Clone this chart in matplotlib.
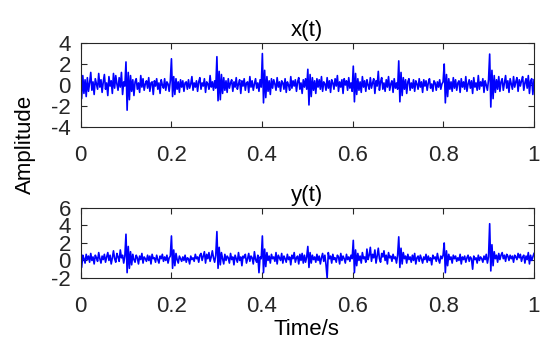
import numpy as np
import matplotlib
matplotlib.use('Agg')
import matplotlib.pyplot as plt

# 字体 (MATLAB 风格, Arial 的替代)
plt.rcParams['font.family'] = ['Liberation Sans', 'DejaVu Sans']
plt.rcParams['axes.unicode_minus'] = False

# --- 数据: 从图中估读, 每行 0.1 s ---
x_vals = [
    1.8, -1.3, 0.9, -0.8, 0.5, -1.1, 0.7, -0.6, 0.2, 1.2, -0.5, 0.3, -0.9, 0.6, 0.1, -0.4, 1.1, -0.2, 0.5, -0.7,
    0.3, 1.0, -0.4, 0.2, -1.0, 0.8, -0.1, 0.4, -0.8, 1.1, -0.3, 0.9, 0.1, -0.5, 0.7, -0.2, 1.2, -0.9, 0.3, -0.1,
    2.2, -2.4, 1.2, -1.4, 0.9, -0.6, 0.5, -1.0, 0.3, 0.6, -0.4, 0.2, -0.7, 0.9, -0.2, 0.6, -0.5, 0.1, 0.4, -0.3,
    0.7, -0.6, 0.2, 0.3, -0.9, 0.4, -0.1, 0.6, -0.4, 0.2, -0.8, 0.5, 0.0, -0.3, 0.6, -0.5, 0.3, 0.1, -0.6, 0.4,
    2.5, -1.1, 0.8, -0.9, 0.6, -0.4, 0.3, -0.7, 0.5, -0.2, 0.4, -0.6, 0.2, 0.3, -0.4, 0.5, -0.3, 0.1, 0.8, -0.5,
    0.2, -0.2, 0.4, -0.6, 0.3, 0.7, -0.4, 0.2, -0.1, 0.6, -0.7, 0.3, 0.1, -0.4, 0.9, -0.2, 0.3, -0.5, 0.4, -0.3,
    2.7, -1.5, 1.3, -1.4, 1.0, -0.8, 0.7, -0.5, 0.4, -0.7, 0.6, -0.3, 0.2, 0.5, -0.6, 0.3, -0.2, 0.7, -0.4, 0.1,
    0.5, -0.8, 0.4, -0.1, 0.6, -0.5, 0.2, 0.3, -0.7, 0.8, -0.2, 0.4, -0.5, 0.1, 0.6, -0.3, 0.2, -0.6, 0.5, -0.2,
    3.0, -1.7, 1.4, -1.2, 0.8, -0.6, 0.4, -0.9, 0.6, -0.3, 0.5, 0.1, -0.5, 0.7, -0.2, 0.3, -0.6, 0.4, 0.2, -0.4,
    0.6, -0.7, 0.3, 0.0, -0.5, 0.8, -0.3, 0.4, -0.1, 0.5, -0.6, 0.3, 0.7, -0.4, 0.2, -0.8, 0.5, -0.2, 0.6, -0.4,
    1.5, -1.9, 1.0, -1.1, 0.7, -0.5, 0.4, -0.8, 0.6, -0.2, 0.5, -0.4, 0.8, -0.6, 0.3, 0.1, -0.5, 0.7, -0.3, 0.4,
    -0.7, 0.5, 0.2, -0.4, 0.6, -0.1, 0.9, -0.6, 0.3, -0.2, 0.5, -0.8, 0.6, 0.0, 0.4, -0.5, 0.7, -0.3, 0.2, -0.6,
    1.8, -1.6, 1.1, -0.9, 0.6, -0.5, 0.3, -0.7, 0.8, -0.2, 0.4, -0.6, 0.5, 0.0, -0.4, 0.7, -0.3, 0.2, 0.6, -0.8,
    0.4, -0.1, 1.3, -0.5, 0.3, 0.7, -0.4, 0.2, -0.6, 0.5, -0.2, 0.8, -0.5, 0.1, 0.4, -0.7, 0.6, -0.3, 0.2, -0.4,
    2.3, -1.6, 1.2, -1.0, 0.7, -0.4, 0.5, -0.8, 0.3, 0.6, -0.5, 0.2, -0.3, 0.5, -0.6, 0.4, 0.1, -0.4, 0.6, -0.2,
    0.3, -0.7, 0.5, -0.1, 0.4, -0.5, 0.2, 0.6, -0.3, 0.1, -0.6, 0.4, 0.2, -0.5, 0.3, -0.2, 0.5, -0.4, 0.1, 0.3,
    2.0, -1.7, 1.0, -1.1, 0.6, -0.4, 0.3, -0.6, 0.7, -0.3, 0.5, -0.5, 0.2, 0.4, -0.7, 0.6, -0.2, 0.3, -0.4, 0.8,
    -0.6, 0.1, 0.5, -0.3, 0.4, -0.8, 0.7, -0.2, 0.2, -0.5, 0.9, -0.4, 0.3, -0.1, 0.6, -0.7, 0.4, 0.0, -0.5, 0.5,
    2.95, -2.1, 1.4, -1.3, 0.9, -0.7, 0.5, -0.4, 0.8, -0.6, 0.3, 0.6, -0.5, 0.2, 0.9, -0.3, 0.4, -0.7, 0.6, 0.1,
    -0.4, 0.8, -0.2, 0.3, 0.7, -0.6, 0.5, -0.1, 0.4, 0.8, -0.5, 0.2, 0.6, -0.3, 0.9, -0.8, 0.4, 0.6, -0.9, 0.5,
]

y_vals = [
    1.0, -0.8, 0.6, 0.2, -0.3, 0.7, 0.1, 0.5, -0.2, 0.8, 0.0, 0.4, -0.4, 0.6, 0.3, -0.1, 0.9, 0.2, -0.3, 0.5,
    0.1, 0.7, -0.2, 0.4, 0.9, 0.0, 0.6, -0.4, 0.3, 1.1, 0.2, -0.2, 0.8, 0.4, -0.1, 1.2, 0.3, 0.6, -0.3, 0.5,
    3.0, -1.4, 1.6, -0.9, 1.0, -0.5, 0.7, 0.1, -0.2, 0.6, 0.3, -0.4, 0.5, 0.1, 0.8, -0.3, 0.4, 0.2, -0.1, 0.6,
    0.0, 0.5, -0.4, 0.7, 0.2, 0.3, -0.2, 0.6, 0.1, -0.3, 0.5, 0.2, 0.7, -0.1, 0.4, 0.0, 0.6, -0.3, 0.3, 0.5,
    2.8, -0.9, 1.2, -0.6, 0.8, 0.1, -0.3, 0.5, 0.2, -0.1, 0.4, 0.0, 0.6, -0.2, 0.3, 0.2, -0.4, 0.5, 0.1, 0.3,
    -0.1, 0.7, 0.2, 0.4, -0.2, 0.6, 0.8, 0.0, 0.5, 1.0, -0.3, 0.7, 0.2, 0.9, -0.1, 0.4, 1.1, 0.3, -0.2, 0.6,
    3.3, -0.9, 1.5, -0.5, 0.9, 0.2, -0.4, 0.7, 0.0, 0.5, 0.3, -0.3, 0.8, 0.1, 0.4, -0.5, 0.6, 0.2, -0.2, 0.9,
    0.0, 0.4, -0.6, 0.5, 0.3, 0.7, -0.3, 0.2, 0.8, -0.1, 0.5, 0.3, -0.4, 1.0, 0.1, -0.2, 0.6, -1.4, 0.4, 0.2,
    2.8, -1.4, 1.3, -0.7, 0.9, 0.0, 0.5, -0.3, 0.7, 0.2, 0.4, -0.1, 0.9, -0.4, 0.6, 0.3, 0.0, 0.8, -0.3, 0.5,
    0.2, -0.2, 0.7, 0.1, 0.4, -0.5, 0.6, 0.2, 0.9, -0.2, 0.3, 0.5, -0.4, 0.7, 0.0, 0.8, -0.3, 0.6, -0.2, 0.4,
    1.6, -0.8, 0.9, -0.3, 0.6, 0.1, 0.4, -0.2, 0.7, 0.0, 0.5, -0.4, 0.3, 0.8, -0.1, 0.6, -0.5, -2.0, 0.9, 0.2,
    0.5, -0.3, 0.7, 0.1, 0.3, -0.2, 0.6, 0.4, -0.4, 0.8, 0.0, 0.5, 0.2, -0.3, 0.7, 0.1, 0.4, -0.1, 0.6, 0.2,
    2.3, -1.4, 1.2, -0.6, 0.8, 0.0, 0.5, -0.3, 0.9, 0.2, 0.4, -0.2, 1.3, 0.1, 0.6, 1.5, -0.1, 0.7, 0.3, 1.2,
    -0.3, 0.5, 1.4, 0.2, -0.2, 0.8, 0.4, 1.1, 0.0, 0.6, -0.4, 0.9, 0.3, 0.5, -0.1, 0.7, 0.2, 0.4, -0.3, 0.6,
    2.7, -0.8, 1.4, -0.4, 0.9, 0.2, 0.5, -0.3, 0.7, 0.1, 0.4, -0.2, 0.6, 0.0, 0.8, -0.4, 0.3, 0.5, -0.1, 0.6,
    0.2, -0.3, 0.4, 0.1, 0.7, -0.2, 0.5, 0.0, 0.3, -0.5, 0.6, 0.2, 0.4, -0.1, 0.8, 0.1, -0.3, 0.5, 0.2, 0.6,
    2.0, -1.4, 1.1, -0.6, 0.7, 0.1, 0.4, -0.3, 0.6, 0.2, 0.5, -0.1, 0.3, 0.0, 0.7, -0.4, 0.4, 0.1, 0.5, -0.2,
    0.3, 0.6, -0.1, 0.4, 0.2, -1.0, 0.5, 0.1, 0.3, -0.3, 0.6, 0.0, 0.4, 0.2, -0.2, 0.5, 0.1, 0.7, -0.3, 0.4,
    4.2, -1.2, 1.8, -0.6, 1.0, 0.2, 0.6, -0.2, 0.8, 0.1, 0.6, 0.9, 0.2, 0.6, -0.1, 0.7, 0.5, 0.0, 0.6, 0.2,
    0.5, -0.2, 0.6, 0.4, 0.1, 0.8, 0.3, 0.7, -0.1, 0.4, 0.6, -0.3, 0.5, 0.1, 0.9, -0.4, 0.6, 0.0, 0.4, 0.8,
]

x_ticks = [0, 0.2, 0.4, 0.6, 0.8, 1]
x_ticklabels = ['0', '0.2', '0.4', '0.6', '0.8', '1']
top_yticks = [-4, -2, 0, 2, 4]
bottom_yticks = [-2, 0, 2, 4, 6]

t = np.linspace(0, 1, len(x_vals))

fig = plt.figure(figsize=(5.5, 3.47), dpi=100)
ax1 = fig.add_axes([0.1464, 0.634, 0.8245, 0.242])
ax2 = fig.add_axes([0.1464, 0.199, 0.8245, 0.2017])

edge = '#262626'
for ax, sig, yt, ttl in [(ax1, x_vals, top_yticks, 'x(t)'), (ax2, y_vals, bottom_yticks, 'y(t)')]:
    ax.plot(t, sig, color='#0000ff', linewidth=1.2)
    ax.set_xlim(0, 1)
    ax.set_ylim(yt[0], yt[-1])
    ax.set_xticks(x_ticks)
    ax.set_xticklabels(x_ticklabels)
    ax.set_yticks(yt)
    ax.tick_params(direction='in', length=4, width=0.8, top=True, right=True,
                   labelsize=16, colors=edge)
    ax.tick_params(axis='x', pad=13)
    ax.tick_params(axis='y', pad=7)
    for s in ax.spines.values():
        s.set_color(edge)
        s.set_linewidth(0.8)
    ax.set_title(ttl, fontsize=16, pad=5)

fig.text(0.047, 1 - 144 / 347, 'Amplitude', rotation=90, ha='center', va='center', fontsize=16)
fig.text(0.558, 1 - 335 / 347, 'Time/s', ha='center', va='baseline', fontsize=16)

fig.savefig('out.png', dpi=100)
plt.close()
